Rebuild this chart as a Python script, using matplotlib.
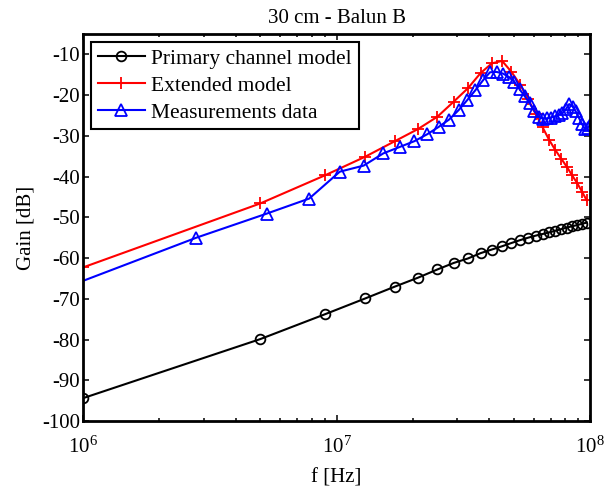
import numpy as np
import matplotlib
matplotlib.use('Agg')
import matplotlib.pyplot as plt
from matplotlib.ticker import LogLocator, FixedLocator

matplotlib.rcParams.update({'font.family': 'Liberation Serif', 'font.size': 15,
                            'axes.unicode_minus': False,
                            'mathtext.fontset': 'custom',
                            'mathtext.rm': 'Liberation Serif',
                            'mathtext.it': 'Liberation Serif:italic'})

# model frequency grid: 1 MHz .. 97 MHz, 4 MHz step
f_model = np.arange(1e6, 98e6, 4e6)
gain_primary = [-94.4, -79.9, -73.8, -69.9, -67.0, -64.8, -62.8, -61.2, -60.1,
                -58.8, -57.9, -57.1, -56.3, -55.6, -55.0, -54.5, -54.1, -53.7,
                -53.3, -52.9, -52.5, -52.2, -51.9, -51.6, -51.3]
gain_extended = [-62.3, -46.6, -39.7, -35.1, -31.3, -28.3, -25.3, -21.6, -18.3,
                 -14.6, -12.2, -11.6, -14.3, -17.4, -21.0, -24.6, -27.9, -31.0,
                 -33.5, -35.6, -37.6, -39.7, -41.6, -43.7, -45.8]

# measured sweep: 0.3 MHz .. 100.3 MHz, 2.5 MHz step
f_meas = np.arange(0.3e6, 101e6, 2.5e6)
gain_meas = [-78.0, -55.0, -49.1, -45.4, -38.8, -37.3, -34.3, -32.7, -31.3,
             -29.6, -27.8, -26.0, -23.7, -21.2, -18.8, -16.4, -14.4, -14.3,
             -14.7, -15.5, -16.8, -18.6, -20.3, -22.0, -23.9, -25.4, -25.8,
             -25.7, -25.5, -25.2, -24.9, -24.5, -23.5, -22.2, -22.8, -24.0,
             -25.5, -27.0, -28.3, -28.0, -27.3]

fig = plt.figure(figsize=(6.13, 4.88), dpi=100)
ax = fig.add_axes([0.1354, 0.1373, 0.8271, 0.793])

ax.semilogx(f_model, gain_primary, '-o', color='k', lw=1.5, ms=7, mew=1.3,
            mfc='none', label='Primary channel model')
ax.semilogx(f_model, gain_extended, '-+', color='r', lw=1.5, ms=8, mew=1.3,
            label='Extended model')
ax.semilogx(f_meas, gain_meas, '-^', color='b', lw=1.5, ms=8.5, mew=1.3,
            mfc='none', label='Measurements data')

ax.set_xlim(1e6, 1e8)
ax.set_ylim(-100, -5)
ax.yaxis.set_major_locator(FixedLocator(np.arange(-100, -9, 10)))
ax.xaxis.set_major_locator(LogLocator(base=10, numticks=5))
ax.xaxis.set_minor_locator(LogLocator(base=10, subs=np.arange(2, 10), numticks=20))

for s in ax.spines.values():
    s.set_linewidth(2)
ax.tick_params(which='both', direction='in', top=True, right=True, width=1.1)
ax.tick_params(which='major', length=4)
ax.tick_params(which='minor', length=2.3)
ax.tick_params(axis='y', pad=2)
ax.tick_params(axis='x', pad=11)

ax.set_xlabel('f [Hz]', labelpad=8)
ax.set_ylabel('Gain [dB]', labelpad=5)
ax.set_title('30 cm - Balun B', fontsize=15, pad=8)

leg = ax.legend(loc='upper left', fancybox=False, edgecolor='k', framealpha=1,
                fontsize=15.5, handlelength=2.2, handletextpad=0.3,
                labelspacing=0.32, borderaxespad=0.38, borderpad=0.3)
leg.get_frame().set_linewidth(1.5)

plt.savefig('out.png', dpi=100)
